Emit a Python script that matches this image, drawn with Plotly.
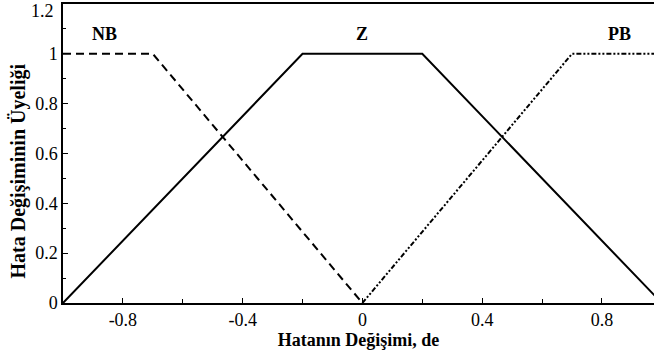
import plotly.graph_objects as go

# Membership functions for the change of error (de)
nb_x = [-1.0, -0.7, 0.0]
nb_y = [1.0, 1.0, 0.0]
z_x = [-1.0, -0.2, 0.2, 1.0]
z_y = [0.0, 1.0, 1.0, 0.0]
pb_x = [0.0, 0.7, 1.0]
pb_y = [0.0, 1.0, 1.0]

set_names = ["NB", "Z", "PB"]
label_x = [-0.86, 0.0, 0.86]
label_y = [1.03, 1.03, 1.03]

x_ticks = [-0.8, -0.4, 0.0, 0.4, 0.8]
x_tick_text = ["-0.8", "-0.4", "0", "0.4", "0.8"]
y_ticks = [0, 0.2, 0.4, 0.6, 0.8, 1.0, 1.2]
y_tick_text = ["0", "0.2", "0.4", "0.6", "0.8", "1", "1.2"]

FONT = "Liberation Serif"

fig = go.Figure()
fig.add_trace(go.Scatter(x=nb_x, y=nb_y, mode="lines",
                         line=dict(color="black", width=2, dash="8px,5px")))
fig.add_trace(go.Scatter(x=z_x, y=z_y, mode="lines",
                         line=dict(color="black", width=2)))
fig.add_trace(go.Scatter(x=pb_x, y=pb_y, mode="lines",
                         line=dict(color="black", width=2,
                                   dash="5px,2px,2px,2px,2px,2px")))

for name, lx, ly in zip(set_names, label_x, label_y):
    fig.add_annotation(x=lx, y=ly, text="<b>%s</b>" % name, showarrow=False,
                       font=dict(family=FONT, size=18, color="black"),
                       yanchor="bottom")

# the top tick label sits on the plot's upper edge, so it is placed by hand
fig.add_annotation(x=0, xref="paper", xanchor="right", xshift=-7,
                   y=y_ticks[-1], yref="y", yanchor="top", yshift=5,
                   text=y_tick_text[-1], showarrow=False,
                   font=dict(family=FONT, size=18, color="black"))

# vertical axis title, sitting a little below the middle of the axis
fig.add_annotation(x=0, xref="paper", xanchor="center", xshift=-45,
                   y=0.44, yref="paper", yanchor="middle",
                   text="<b>Hata Değişiminin Üyeliği</b>", textangle=-90,
                   showarrow=False,
                   font=dict(family=FONT, size=20, color="black"))

fig.update_layout(
    width=654, height=362,
    margin=dict(l=63, r=0, t=4, b=59),
    paper_bgcolor="white", plot_bgcolor="white",
    showlegend=False,
    font=dict(family=FONT, size=18, color="black"),
    xaxis=dict(
        range=[-1.0, 0.974], showgrid=False, zeroline=False,
        showline=True, linecolor="black", linewidth=1.5, mirror=True,
        ticks="inside", ticklen=5, tickcolor="black",
        tickvals=x_ticks, ticktext=x_tick_text,
        tickfont=dict(family=FONT, size=18),
        minor=dict(ticks="inside", dtick=0.2, tick0=0, ticklen=4,
                   tickcolor="black"),
        title=dict(text="<b>Hatanın Değişimi, de</b>", standoff=4,
                   font=dict(family=FONT, size=18)),
    ),
    yaxis=dict(
        range=[0, 1.2], showgrid=False, zeroline=False,
        showline=True, linecolor="black", linewidth=1.5,
        ticks="inside", ticklen=5, tickcolor="black",
        tickvals=y_ticks[:-1], ticktext=y_tick_text[:-1],
        tickfont=dict(family=FONT, size=18),
        minor=dict(ticks="inside", dtick=0.1, tick0=0, ticklen=3,
                   tickcolor="black"),
    ),
)

fig.write_html("out.html")
